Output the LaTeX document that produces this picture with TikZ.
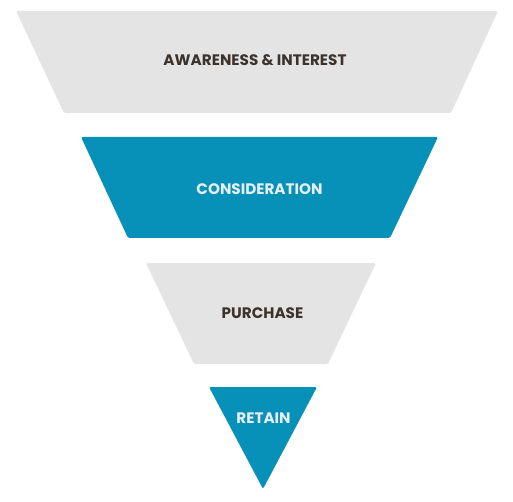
\documentclass[tikz,border=0pt]{standalone}
\usepackage{fontspec}
\setmainfont{Poppins}
\definecolor{funnelgray}{HTML}{E4E4E4}
\definecolor{funnelblue}{HTML}{0790B8}
\definecolor{labeldark}{HTML}{3C332D}
\definecolor{labellight}{HTML}{E6F0F4}
\tikzset{
  stage/.style={rounded corners=1.5pt},
  stagelabel/.style={font=\bfseries\fontsize{15.2}{17}\selectfont, inner sep=0pt}
}
\begin{document}
\begin{tikzpicture}[x=1pt,y=1pt]
        \useasboundingbox (0,0) rectangle (513,501);

        % Top stage
        \fill[stage, funnelgray] (16,490) -- (498,490) -- (451,388) -- (64,388) -- cycle;
        \node[stagelabel, text=labeldark] (awareness) at (255,441) {AWARENESS \& INTEREST};

        % Second stage
        \fill[stage, funnelblue] (81,364) -- (438,364) -- (390,263) -- (128,263) -- cycle;
        \node[stagelabel, text=labellight] (consideration) at (259.5,312) {CONSIDERATION};

        % Third stage
        \fill[stage, funnelgray] (146,238) -- (376,238) -- (328,137) -- (194,137) -- cycle;
        \node[stagelabel, text=labeldark] (purchase) at (262.5,187.5) {PURCHASE};

        % Bottom triangle
        \fill[stage, funnelblue] (209,114) -- (317,114) -- (263,12) -- cycle;
        \node[stagelabel, text=labellight] (retain) at (263.5,82.5) {RETAIN};
    \end{tikzpicture}
\end{document}
